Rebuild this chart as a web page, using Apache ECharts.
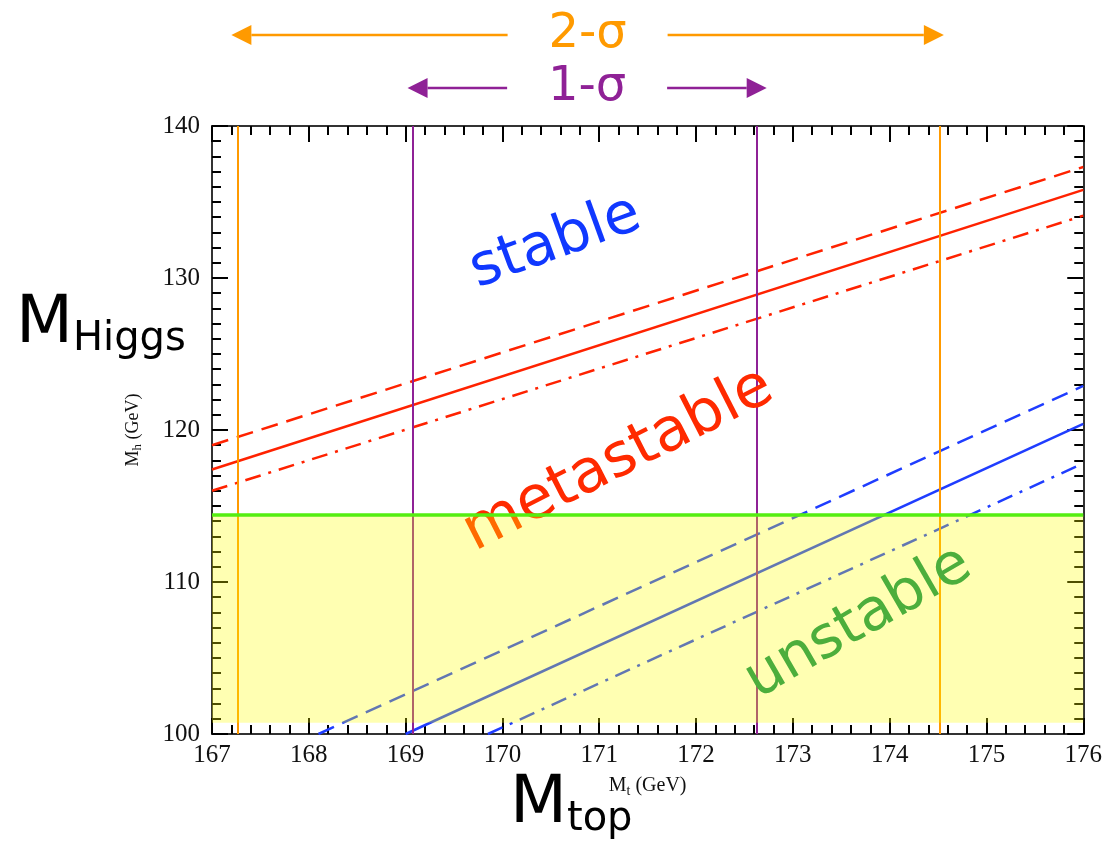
<!DOCTYPE html>
<html>
<head>
<meta charset="utf-8">
<script src="https://cdn.jsdelivr.net/npm/echarts@6/dist/echarts.min.js"></script>
<style>
  html, body { margin: 0; padding: 0; background: #fff; }
  #chart { width: 1105px; height: 854px; }
</style>
</head>
<body>
<div id="chart"></div>
<script>
// axis ranges
const xRange = [167, 176]
const yRange = [100, 140]

// stability boundaries, [Mt, Mh]
const redSolid = [[167, 117.4], [176, 135.8]]
const redDashed = [[167, 119.0], [176, 137.3]]
const redDashDot = [[167, 116.0], [176, 134.1]]
const blueSolid = [[169.0, 100], [176, 120.4]]
const blueDashed = [[168.1, 100], [176, 122.9]]
const blueDashDot = [[169.85, 100], [176, 117.8]]

// top mass bands and LEP bound
const oneSigma = [169.07, 172.63]
const twoSigma = [167.27, 174.52]
const oneSigmaArrow = [169.02, 172.73]
const twoSigmaArrow = [167.2, 174.56]
const lepBound = 114.4
const excludedBand = [100.74, 114.4]

// region labels: [text, Mt, Mh, angle]
const regionLabels = [
  ["stable", 170.55, 132.3, 20],
  ["metastable", 171.2, 118.0, 27],
  ["unstable", 173.68, 107.3, 30]
]

const RED = "#ff2200"
const BLUE = "#1f3dff"
const ORANGE = "#ff9a00"
const PURPLE = "#8f2196"

let chart = echarts.init(document.getElementById("chart"))

const tickStyle = { color: "#000", width: 2 }

function xAxisOf(pos) {
  return {
    type: "value", position: pos, min: xRange[0], max: xRange[1], interval: 1,
    axisLine: { onZero: false, lineStyle: { color: "#333", width: 2 } },
    axisTick: { inside: true, length: 16, lineStyle: tickStyle },
    minorTick: { show: true, splitNumber: 5, length: 9, lineStyle: tickStyle },
    splitLine: { show: false },
    axisLabel: {
      show: pos === "bottom", fontFamily: "Liberation Serif", fontSize: 25,
      color: "#111", margin: 9
    }
  }
}

function yAxisOf(pos) {
  return {
    type: "value", position: pos, min: yRange[0], max: yRange[1], interval: 10,
    axisLine: { onZero: false, lineStyle: { color: "#333", width: 2 } },
    axisTick: { inside: true, length: 16, lineStyle: tickStyle },
    minorTick: { show: true, splitNumber: 10, length: 9, lineStyle: tickStyle },
    splitLine: { show: false },
    axisLabel: {
      show: pos === "left", fontFamily: "Liberation Serif", fontSize: 25,
      color: "#111", margin: 12
    }
  }
}

let xAxes = [xAxisOf("bottom"), xAxisOf("top")]
xAxes[0].name = "{m|M}{s|t}{m| (GeV)}"
xAxes[0].nameLocation = "middle"
xAxes[0].nameGap = 40
xAxes[0].nameTextStyle = {
  fontFamily: "Liberation Serif", color: "#111",
  rich: {
    m: { fontSize: 20, fontFamily: "Liberation Serif", color: "#111" },
    s: { fontSize: 14, fontFamily: "Liberation Serif", color: "#111", padding: [10, 0, 0, 0] }
  }
}

let yAxes = [yAxisOf("left"), yAxisOf("right")]
yAxes[0].name = "{m|M}{s|h}{m| (GeV)}"
yAxes[0].nameLocation = "middle"
yAxes[0].nameGap = 68
yAxes[0].nameTextStyle = {
  fontFamily: "Liberation Serif", color: "#111",
  rich: {
    m: { fontSize: 18, fontFamily: "Liberation Serif", color: "#111" },
    s: { fontSize: 13, fontFamily: "Liberation Serif", color: "#111", padding: [9, 0, 0, 0] }
  }
}

function boundary(data, color, dash) {
  return {
    type: "line", data: data, showSymbol: false, silent: true, z: 3,
    lineStyle: { color: color, width: 2.5, type: dash }
  }
}

function vlines(values, color) {
  return {
    type: "line", data: [], silent: true, z: 4,
    markLine: {
      silent: true, symbol: "none", label: { show: false }, z: 4,
      lineStyle: { color: color, width: 2, type: "solid" },
      data: values.map(v => ({ xAxis: v }))
    }
  }
}

let option = {
  animation: false,
  grid: { left: 212, right: 20, top: 126, bottom: 120 },
  xAxis: xAxes,
  yAxis: yAxes,
  series: [
    boundary(redDashed, RED, [17, 9]),
    boundary(redSolid, RED, "solid"),
    boundary(redDashDot, RED, [16, 8, 3, 8]),
    boundary(blueDashed, BLUE, [17, 9]),
    boundary(blueSolid, BLUE, "solid"),
    boundary(blueDashDot, BLUE, [16, 8, 3, 8]),
    vlines(twoSigma, ORANGE),
    vlines(oneSigma, PURPLE),
    {
      // excluded region, a translucent yellow film over lines and labels
      type: "line", data: [], silent: true, z: 10,
      markArea: {
        silent: true, z: 10,
        itemStyle: { color: "rgba(255,255,0,0.3)" },
        data: [[{ xAxis: xRange[0], yAxis: excludedBand[0] }, { xAxis: xRange[1], yAxis: excludedBand[1] }]]
      }
    },
    {
      type: "line", data: [], silent: true, z: 11,
      markLine: {
        silent: true, symbol: "none", label: { show: false }, z: 11,
        lineStyle: { color: "#55ee11", width: 3.5, type: "solid" },
        data: [{ yAxis: lepBound }]
      }
    }
  ]
}

chart.setOption(option)

// annotations positioned from data coordinates
function px(x, y) {
  return chart.convertToPixel({ gridIndex: 0 }, [x, y])
}

function arrow(range, y, color, label, size) {
  let left = px(range[0], yRange[1])[0]
  let right = px(range[1], yRange[1])[0]
  let mid = (left + right) / 2
  let gap = 80
  let head = 20
  return [
    { type: "line", shape: { x1: left + head, y1: y, x2: mid - gap, y2: y }, style: { stroke: color, lineWidth: 2.5 } },
    { type: "line", shape: { x1: mid + gap, y1: y, x2: right - head, y2: y }, style: { stroke: color, lineWidth: 2.5 } },
    { type: "polygon", shape: { points: [[left, y], [left + head, y - 10], [left + head, y + 10]] }, style: { fill: color } },
    { type: "polygon", shape: { points: [[right, y], [right - head, y - 10], [right - head, y + 10]] }, style: { fill: color } },
    {
      type: "text", x: mid, y: y,
      style: {
        text: label, fill: color, font: size + "px 'DejaVu Sans'",
        align: "center", verticalAlign: "middle"
      }
    }
  ]
}

let elements = []
elements = elements.concat(arrow(twoSigmaArrow, 35, ORANGE, "2-σ", 48))
elements = elements.concat(arrow(oneSigmaArrow, 88, PURPLE, "1-σ", 48))

let labelColors = { stable: "#1038ff", metastable: "#ff2a00", unstable: "#4cae3c" }
let labelSizes = { stable: 58, metastable: 60, unstable: 58 }
regionLabels.forEach(([text, x, y, angle]) => {
  let p = px(x, y)
  elements.push({
    type: "text", x: p[0], y: p[1], rotation: angle * Math.PI / 180,
    z: text === "unstable" ? 20 : 5,
    style: {
      text: text, fill: labelColors[text], font: labelSizes[text] + "px 'DejaVu Sans'",
      align: "center", verticalAlign: "middle"
    }
  })
})

// big axis titles
elements.push({
  type: "text", x: 16, y: 290,
  style: {
    text: "{m|M}{s|Higgs}",
    rich: {
      m: { fontSize: 66, fontFamily: "DejaVu Sans", fill: "#000" },
      s: { fontSize: 40, fontFamily: "DejaVu Sans", fill: "#000", padding: [30, 0, 0, 0] }
    }
  }
})
elements.push({
  type: "text", x: 510, y: 770,
  style: {
    text: "{m|M}{s|top}",
    rich: {
      m: { fontSize: 66, fontFamily: "DejaVu Sans", fill: "#000" },
      s: { fontSize: 40, fontFamily: "DejaVu Sans", fill: "#000", padding: [30, 0, 0, 0] }
    }
  }
})

chart.setOption({ graphic: { elements: elements } })
</script>
</body>
</html>
